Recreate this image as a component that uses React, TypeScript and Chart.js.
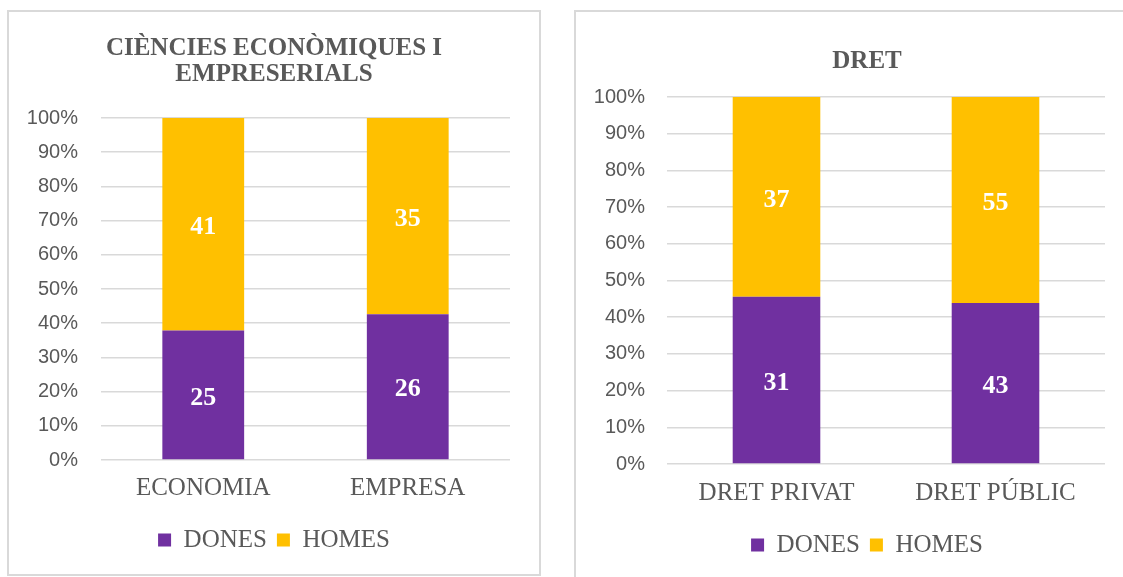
import React, { useEffect, useRef } from "react";
import { Chart, registerables } from "chart.js";

Chart.register(...registerables);

const SERIES_NAMES = ["DONES", "HOMES"];
const SERIES_COLORS = ["#7030A0", "#FFC000"];

const LEFT_TITLE = ["CIÈNCIES ECONÒMIQUES I", "EMPRESERIALS"];
const LEFT_CATEGORIES = ["ECONOMIA", "EMPRESA"];
const LEFT_DONES = [25, 26];
const LEFT_HOMES = [41, 35];

const RIGHT_TITLE = "DRET";
const RIGHT_CATEGORIES = ["DRET PRIVAT", "DRET PÚBLIC"];
const RIGHT_DONES = [31, 43];
const RIGHT_HOMES = [37, 55];

const Y_MIN = 0;
const Y_MAX = 100;
const Y_STEP = 10;

const TEXT_COLOR = "#595959";
const GRID_COLOR = "#d9d9d9";
const SERIF = "'Liberation Serif', 'Times New Roman', serif";
const SANS = "'Liberation Sans', Arial, sans-serif";

const countLabels = {
  id: "countLabels",
  afterDatasetsDraw(chart: any) {
    const ctx = chart.ctx;
    ctx.save();
    ctx.fillStyle = "#ffffff";
    ctx.font = `bold 26px ${SERIF}`;
    ctx.textAlign = "center";
    ctx.textBaseline = "middle";
    chart.data.datasets.forEach((ds: any, di: number) => {
      const meta = chart.getDatasetMeta(di);
      meta.data.forEach((el: any, i: number) => {
        const y = (el.y + el.base) / 2;
        ctx.fillText(String(ds.counts[i]), el.x, y + 3);
      });
    });
    ctx.restore();
  },
};

type Layout = {
  width: number;
  height: number;
  yAxisWidth: number;
  yTickPad: number;
  xAxisHeight: number;
  xTickPad: number;
  rightGap: number;
  padBottom: number;
  titlePadTop: number;
  titlePadBottom: number;
};

function pct(a: number[], b: number[], which: number) {
  return a.map((v, i) => ((which === 0 ? v : b[i]) / (v + b[i])) * 100);
}

function StackedPanel(props: {
  left: number;
  top: number;
  outerWidth: number;
  outerHeight: number;
  title: string | string[];
  categories: string[];
  dones: number[];
  homes: number[];
  layout: Layout;
}) {
  const ref = useRef<HTMLCanvasElement | null>(null);
  const { layout } = props;

  useEffect(() => {
    if (!ref.current) return;
    const counts = [props.dones, props.homes];
    const chart = new Chart(ref.current, {
      type: "bar",
      data: {
        labels: props.categories,
        datasets: SERIES_NAMES.map((name, s) => ({
          label: name,
          data: pct(props.dones, props.homes, s),
          counts: counts[s],
          backgroundColor: SERIES_COLORS[s],
          borderWidth: 0,
          barPercentage: 0.4,
          categoryPercentage: 1,
        })) as any,
      },
      options: {
        responsive: false,
        animation: false,
        events: [],
        layout: {
          padding: { top: 0, left: 0, right: 0, bottom: layout.padBottom },
        },
        scales: {
          x: {
            stacked: true,
            grid: { display: false },
            border: { display: false },
            ticks: {
              color: TEXT_COLOR,
              padding: layout.xTickPad,
              font: { family: SERIF, size: 25, lineHeight: 1.2 },
            },
            afterFit: (s: any) => {
              s.height = layout.xAxisHeight;
            },
          },
          y: {
            stacked: true,
            min: Y_MIN,
            max: Y_MAX,
            ticks: {
              stepSize: Y_STEP,
              color: TEXT_COLOR,
              padding: layout.yTickPad,
              font: { family: SANS, size: 20 },
              callback: (v: any) => v + "%",
            },
            grid: { color: GRID_COLOR, lineWidth: 1.5, drawTicks: false },
            border: { display: false },
            afterFit: (s: any) => {
              s.width = layout.yAxisWidth;
            },
          },
          gap: {
            type: "linear",
            position: "right",
            display: true,
            grid: { display: false, drawTicks: false },
            border: { display: false },
            ticks: { display: false },
            afterFit: (s: any) => {
              s.width = layout.rightGap;
            },
          },
        },
        plugins: {
          title: {
            display: true,
            text: props.title,
            color: TEXT_COLOR,
            font: { family: SERIF, size: 25, weight: "bold", lineHeight: 26 / 25 },
            padding: { top: layout.titlePadTop, bottom: layout.titlePadBottom },
          },
          legend: {
            position: "bottom",
            labels: {
              boxWidth: 13,
              boxHeight: 13,
              padding: 10,
              color: TEXT_COLOR,
              font: { family: SERIF, size: 25 },
            },
          },
          tooltip: { enabled: false },
        },
      } as any,
      plugins: [countLabels],
    });
    return () => chart.destroy();
  }, []);

  return (
    <div
      style={{
        position: "absolute",
        left: props.left,
        top: props.top,
        width: props.outerWidth,
        height: props.outerHeight,
        border: `2px solid ${GRID_COLOR}`,
        boxSizing: "border-box",
        background: "#fff",
      }}
    >
      <canvas
        ref={ref}
        width={layout.width}
        height={layout.height}
        style={{ display: "block", width: layout.width, height: layout.height }}
      />
    </div>
  );
}

export default function App() {
  return (
    <div
      style={{
        position: "absolute",
        left: 0,
        top: 0,
        width: 1123,
        height: 577,
        overflow: "hidden",
        background: "#fff",
      }}
    >
      <StackedPanel
        left={7}
        top={10}
        outerWidth={534}
        outerHeight={566}
        title={LEFT_TITLE}
        categories={LEFT_CATEGORIES}
        dones={LEFT_DONES}
        homes={LEFT_HOMES}
        layout={{
          width: 530,
          height: 562,
          yAxisWidth: 92,
          yTickPad: 23,
          xAxisHeight: 57.5,
          xTickPad: 5,
          rightGap: 29,
          padBottom: 11.5,
          titlePadTop: 24,
          titlePadBottom: 30,
        }}
      />
      <StackedPanel
        left={574}
        top={10}
        outerWidth={586}
        outerHeight={570}
        title={RIGHT_TITLE}
        categories={RIGHT_CATEGORIES}
        dones={RIGHT_DONES}
        homes={RIGHT_HOMES}
        layout={{
          width: 582,
          height: 566,
          yAxisWidth: 91,
          yTickPad: 22,
          xAxisHeight: 58.5,
          xTickPad: 6,
          rightGap: 53,
          padBottom: 10.5,
          titlePadTop: 37,
          titlePadBottom: 22,
        }}
      />
    </div>
  );
}
